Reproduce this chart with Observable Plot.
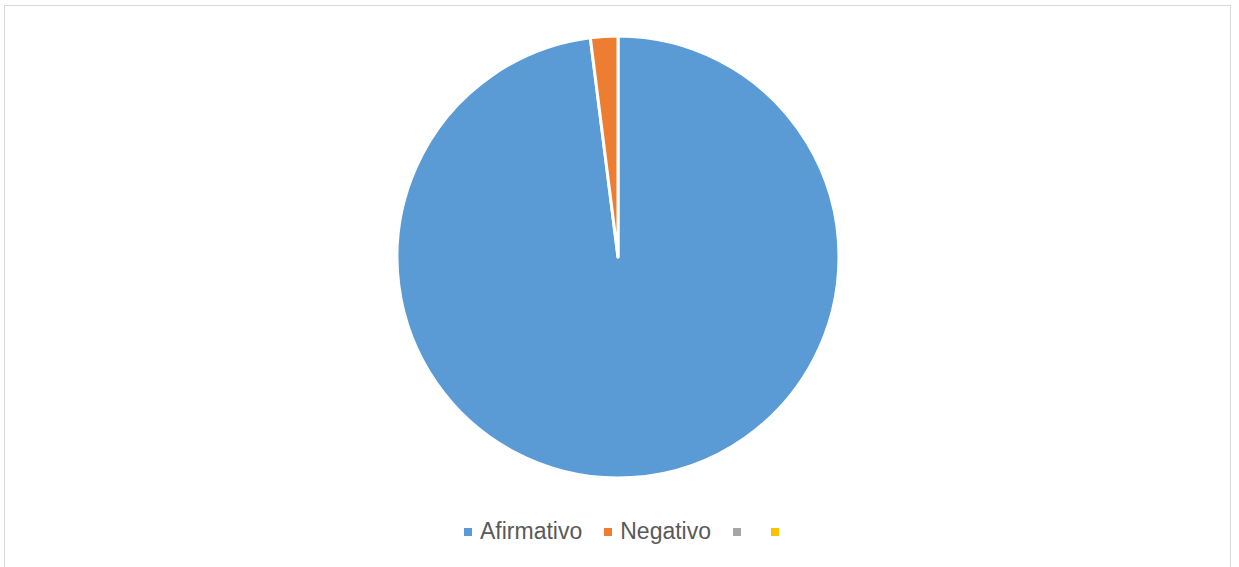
<!DOCTYPE html>
<html>
<head>
<meta charset="utf-8">
<script src="https://cdn.jsdelivr.net/npm/d3@7"></script>
<script src="https://cdn.jsdelivr.net/npm/@observablehq/plot@0.6"></script>
<style>
  html, body { margin: 0; padding: 0; background: #fff; }
  #wrap { position: relative; width: 1239px; height: 567px; overflow: hidden; font-family: "Liberation Sans", Arial, sans-serif; }
  #frame { position: absolute; left: 4px; top: 5px; width: 1227px; height: 600px; border: 1px solid #d9d9d9; box-sizing: border-box; }
  #chart { position: absolute; left: 0; top: 0; }
  #legend { position: absolute; left: 453px; top: 518px; display: flex; justify-content: flex-start; align-items: center; color: #595959; font-size: 23px; white-space: pre; }
  .item { display: flex; align-items: center; margin: 0 11px; }
  .sw { width: 8px; height: 8px; margin-right: 8px; }
</style>
</head>
<body>
<div id="wrap">
  <div id="frame"></div>
  <div id="chart"></div>
  <div id="legend"></div>
</div>
<script>
const categories = ["Afirmativo", "Negativo", "", " "];
const values = [98, 2, 0, 0];
const colors = ["#5B9BD5", "#ED7D31", "#A5A5A5", "#FFC000"];

const data = categories.map((c, i) => ({category: c, value: values[i]}));
const color = Plot.scale({color: {type: "ordinal", domain: categories, range: colors}});

const radius = 221;
const pieMark = (index, scales, vals, dims) => {
  const w = dims.width - dims.marginLeft - dims.marginRight;
  const h = dims.height - dims.marginTop - dims.marginBottom;
  const cx = dims.marginLeft + w / 2;
  const cy = dims.marginTop + h / 2;
  const arcs = d3.pie().sort(null).value(d => d.value)(data);
  const arc = d3.arc().innerRadius(0).outerRadius(radius);
  const g = d3.create("svg:g").attr("transform", `translate(${cx},${cy})`);
  g.selectAll("path")
    .data(arcs.filter(a => a.data.value > 0))
    .join("path")
    .attr("d", arc)
    .attr("fill", a => color.apply(a.data.category))
    .attr("stroke", "#fff")
    .attr("stroke-width", 3)
    .attr("stroke-linejoin", "round");
  return g.node();
};

const plot = Plot.plot({
  width: 1239,
  height: 514,
  marginLeft: 0,
  marginRight: 3,
  marginTop: 0,
  marginBottom: 0,
  style: {background: "transparent"},
  marks: [pieMark]
});
document.getElementById("chart").appendChild(plot);

const legend = d3.select("#legend");
categories.forEach((c, i) => {
  const it = legend.append("div").attr("class", "item");
  it.append("div").attr("class", "sw").style("background", color.apply(c));
  it.append("span").text(c);
});
</script>
</body>
</html>
